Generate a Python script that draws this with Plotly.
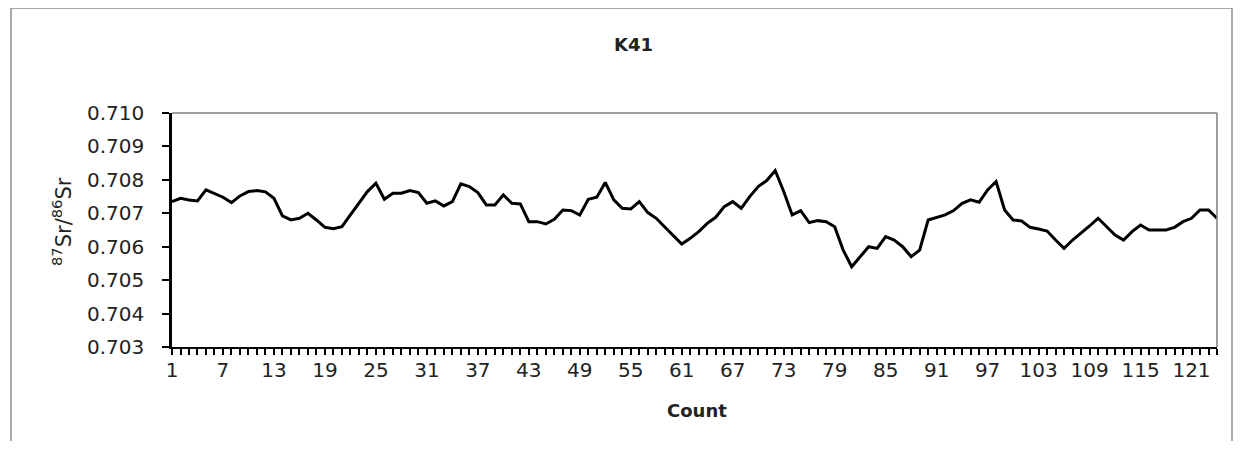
import plotly.graph_objects as go

counts = list(range(1, 125))
sr_ratio = [
    0.70735, 0.70745, 0.70740, 0.70737, 0.70770, 0.70760, 0.70748, 0.70732, 0.70752, 0.70765,
    0.70768, 0.70764, 0.70745, 0.70692, 0.70680, 0.70685, 0.70700, 0.70680, 0.70658, 0.70654,
    0.70660, 0.70695, 0.70730, 0.70765, 0.70790, 0.70742, 0.70760, 0.70760, 0.70768, 0.70762,
    0.70730, 0.70737, 0.70722, 0.70735, 0.70788, 0.70780, 0.70762, 0.70725, 0.70725, 0.70755,
    0.70730, 0.70728, 0.70675, 0.70675, 0.70668, 0.70682, 0.70710, 0.70708, 0.70695, 0.70742,
    0.70748, 0.70792, 0.70740, 0.70715, 0.70713, 0.70735, 0.70702, 0.70685, 0.70659, 0.70634,
    0.70608, 0.70625, 0.70645, 0.70670, 0.70688, 0.70720, 0.70735, 0.70715, 0.70750, 0.70780,
    0.70798, 0.70828, 0.70765, 0.70695, 0.70708, 0.70672, 0.70678, 0.70675, 0.70660, 0.70590,
    0.70540, 0.70570, 0.70600, 0.70595, 0.70630, 0.70620, 0.70600, 0.70570, 0.70590, 0.70680,
    0.70688, 0.70695, 0.70708, 0.70730, 0.70740, 0.70733, 0.70770, 0.70795, 0.70710, 0.70680,
    0.70677, 0.70658, 0.70653, 0.70647, 0.70620, 0.70595, 0.70620, 0.70640, 0.70662, 0.70685,
    0.70660, 0.70635, 0.70620, 0.70645, 0.70665, 0.70650, 0.70650, 0.70650, 0.70658, 0.70675,
    0.70685, 0.70710, 0.70710, 0.70685,
]
x_tick_labels = [1, 7, 13, 19, 25, 31, 37, 43, 49, 55, 61, 67, 73, 79, 85, 91, 97, 103, 109, 115, 121]
y_ticks = [0.703, 0.704, 0.705, 0.706, 0.707, 0.708, 0.709, 0.710]

FONT = "DejaVu Sans, Verdana, sans-serif"
TXT = "#222222"

fig = go.Figure()
fig.add_trace(go.Scatter(
    x=counts, y=sr_ratio, mode="lines",
    line=dict(color="black", width=3), showlegend=False,
))

# page has an 8px body margin; figure coordinates = screen - 8
OFF = 8
W, H = 1243 - 2 * OFF, 449 - 2 * OFF
L = 172 - OFF
T = 113 - OFF
PR = 1217 - OFF
PB = 347 - OFF
R, B = W - PR, H - PB
pw, ph = PR - L, PB - T

def px(sx):
    return (sx - OFF - L) / pw

def py(sy):
    return (PB - (sy - OFF)) / ph

fig.update_layout(
    width=W, height=H,
    margin=dict(l=L, r=R, t=T, b=B, pad=0),
    paper_bgcolor="white", plot_bgcolor="white",
    font=dict(family=FONT, color=TXT),
    xaxis=dict(
        range=[1, len(counts)],
        tickmode="array", tickvals=x_tick_labels,
        ticktext=[str(v) for v in x_tick_labels],
        ticks="outside", ticklen=6, tickwidth=1.5, tickcolor="black",
        minor=dict(ticks="outside", ticklen=6, tickwidth=1.5, tickcolor="black", dtick=1, tick0=1),
        showline=True, linecolor="black", linewidth=2,
        showgrid=False, zeroline=False,
        tickfont=dict(size=20, family=FONT, color=TXT),
        ticklabelstandoff=-2,
    ),
    yaxis=dict(
        range=[0.703, 0.710],
        tickmode="array", tickvals=y_ticks,
        ticktext=[f"{v:.3f}" for v in y_ticks],
        ticks="outside", ticklen=7, tickwidth=1.5, tickcolor="black",
        showline=True, linecolor="black", linewidth=2.5,
        showgrid=False, zeroline=False,
        tickfont=dict(size=20, family=FONT, color=TXT),
        ticklabelstandoff=14,
    ),
    shapes=[
        dict(type="line", xref="paper", yref="paper", x0=0, x1=1, y0=1, y1=1,
             line=dict(color="#7f7f7f", width=1.5)),
        dict(type="line", xref="paper", yref="paper", x0=1, x1=1, y0=0, y1=1,
             line=dict(color="#7f7f7f", width=1.5)),
        dict(type="line", xref="paper", yref="paper", x0=px(11), x1=px(11), y0=py(8), y1=py(460),
             line=dict(color="#8c8c8c", width=1.5)),
        dict(type="line", xref="paper", yref="paper", x0=px(11), x1=px(1232), y0=py(8), y1=py(8),
             line=dict(color="#8c8c8c", width=1.5)),
        dict(type="line", xref="paper", yref="paper", x0=px(1232), x1=px(1232), y0=py(8), y1=py(460),
             line=dict(color="#8c8c8c", width=1.5)),
    ],
    annotations=[
        dict(text="<b>K41</b>", xref="paper", yref="paper", x=px(633), y=py(45),
             showarrow=False, font=dict(size=18, family=FONT, color=TXT),
             xanchor="center", yanchor="middle"),
        dict(text="<b>Count</b>", xref="paper", yref="paper", x=px(697), y=py(410),
             showarrow=False, font=dict(size=18, family=FONT, color=TXT),
             xanchor="center", yanchor="middle"),
        dict(text="<sup>87</sup>Sr/<sup>86</sup>Sr", xref="paper", yref="paper", x=px(62), y=py(222),
             showarrow=False, textangle=-90, font=dict(size=21, family=FONT, color=TXT),
             xanchor="center", yanchor="middle"),
    ],
)

fig.write_html("out.html")
